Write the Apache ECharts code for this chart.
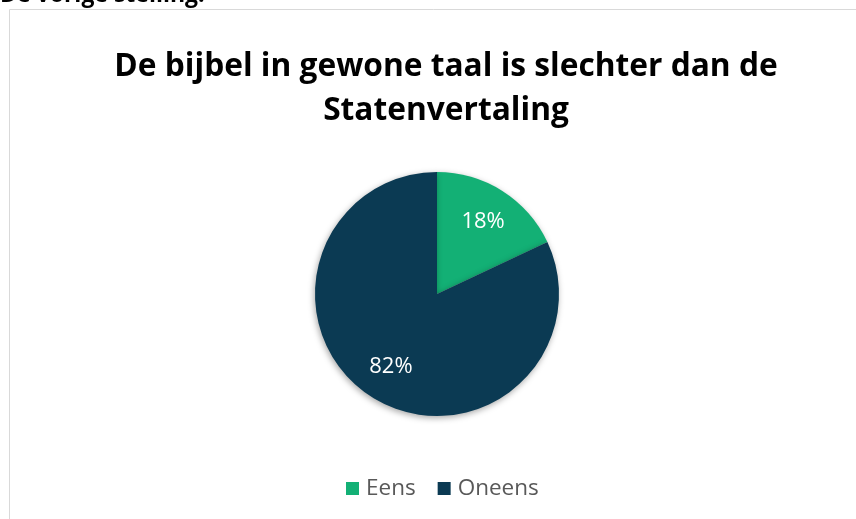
<!DOCTYPE html>
<html>
<head>
<meta charset="utf-8">
<script src="https://cdn.jsdelivr.net/npm/echarts@6/dist/echarts.min.js"></script>
<style>html,body{margin:0;padding:0;background:#fff}#c{width:856px;height:519px}</style>
</head>
<body>
<div id="c"></div>
<script>
const titleText = 'De bijbel in gewone taal is slechter dan de\nStatenvertaling';
const categories = ['Eens', 'Oneens'];
const values = [18, 82];
const colors = ['#13b075', '#0b3a53'];

const chart = echarts.init(document.getElementById('c'));
const data = categories.map((n, i) => ({ name: n, value: values[i], itemStyle: { color: colors[i] } }));
chart.setOption({
  animation: false,
  backgroundColor: '#fff',
  graphic: [
    { type: 'rect', shape: { x: 9.5, y: 9.5, width: 900, height: 560 }, style: { fill: '#fff', stroke: '#d9d9d9', lineWidth: 1 }, z: -10 },
    { type: 'text', left: 0, top: -16, style: { text: 'De vorige stelling:', font: 'bold 23px "Open Sans"', fill: '#000' } }
  ],
  title: {
    text: titleText,
    left: 441, top: 40, textAlign: 'center',
    textStyle: { fontFamily: 'Open Sans', fontWeight: 'bold', fontSize: 31.7, color: '#000', lineHeight: 44 }
  },
  legend: {
    data: categories.map((n, i) => ({ name: n, itemStyle: { color: colors[i] } })),
    bottom: 14, left: 341,
    icon: 'rect', itemWidth: 13, itemHeight: 13, itemGap: 22,
    textStyle: { fontFamily: 'Open Sans', fontSize: 22.5, color: '#595959', padding: [0, 0, 0, 2] }
  },
  series: [
    {
      type: 'pie', center: [437, 294], radius: [0, 122],
      startAngle: 90, clockwise: true,
      label: { show: false }, labelLine: { show: false },
      itemStyle: { shadowBlur: 6, shadowColor: 'rgba(0,0,0,0.35)', shadowOffsetX: -1, shadowOffsetY: 2 },
      emphasis: { disabled: true },
      data: data
    },
    {
      type: 'pie', center: [437, 294], radius: [0, 166],
      startAngle: 90, clockwise: true, silent: true,
      itemStyle: { color: 'rgba(0,0,0,0)' },
      label: { show: true, position: 'inside', formatter: '{c}%', color: '#fff', fontFamily: 'Open Sans', fontSize: 22 },
      labelLine: { show: false },
      emphasis: { disabled: true },
      data: categories.map((n, i) => ({ name: n, value: values[i], itemStyle: { color: 'rgba(0,0,0,0)' } }))
    }
  ]
});
</script>
</body>
</html>
